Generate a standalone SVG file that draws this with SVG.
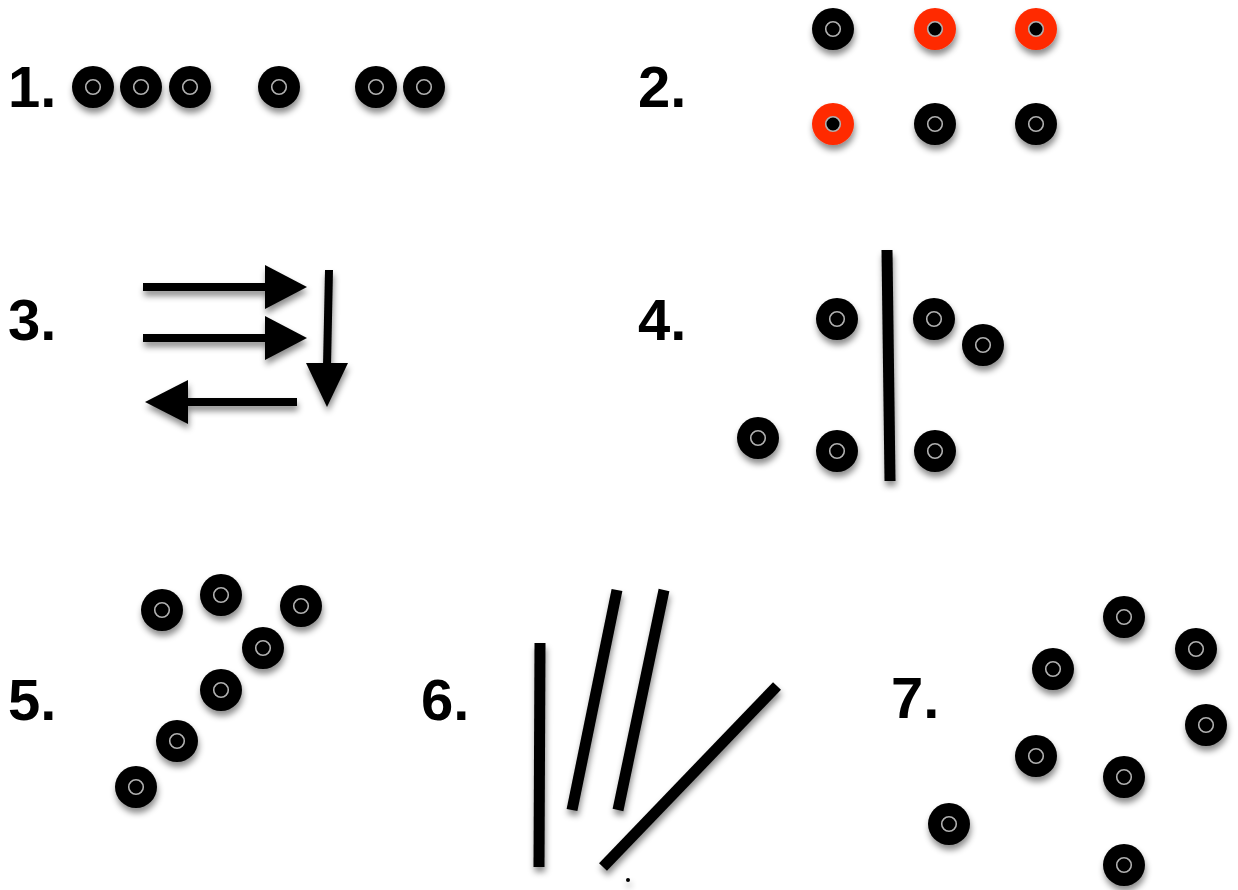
<svg xmlns="http://www.w3.org/2000/svg" xmlns:xlink="http://www.w3.org/1999/xlink" width="1238" height="890" viewBox="0 0 1238 890">
<style>
.lbl{font-family:"Liberation Sans",Arial,Helvetica,sans-serif;font-weight:bold;font-size:58px;fill:#000}
.bar{stroke:#000;stroke-width:11;stroke-linecap:butt;fill:none}
.shape{fill:#000}
</style>
<defs>
<filter id="sh" x="-50%" y="-50%" width="200%" height="200%">
<feDropShadow dx="1" dy="5" stdDeviation="3" flood-color="#000" flood-opacity="0.45"/>
</filter>
<g id="dot">
<circle r="21" fill="#000"/>
<circle r="7.3" fill="none" stroke="#b0b0b0" stroke-width="1.6"/>
</g>
<g id="rdot">
<circle r="21" fill="#ff2a00"/>
<circle r="7.3" fill="#000" stroke="#b0b0b0" stroke-width="1.6"/>
</g>
</defs>
<rect width="1238" height="890" fill="#fff"/>

<g id="labels">
<text class="lbl" x="8" y="107">1.</text>
<text class="lbl" x="638" y="107">2.</text>
<text class="lbl" x="8" y="340">3.</text>
<text class="lbl" x="638" y="340">4.</text>
<text class="lbl" x="8" y="720">5.</text>
<text class="lbl" x="421" y="720">6.</text>
<text class="lbl" x="891" y="718">7.</text>
</g>

<g id="panel1" filter="url(#sh)">
<use xlink:href="#dot" x="93" y="87"/>
<use xlink:href="#dot" x="141" y="87"/>
<use xlink:href="#dot" x="190" y="87"/>
<use xlink:href="#dot" x="279" y="87"/>
<use xlink:href="#dot" x="376" y="87"/>
<use xlink:href="#dot" x="424" y="87"/>
</g>

<g id="panel2" filter="url(#sh)">
<use xlink:href="#dot" x="833" y="29"/>
<use xlink:href="#rdot" x="935" y="29"/>
<use xlink:href="#rdot" x="1036" y="29"/>
<use xlink:href="#rdot" x="833" y="124"/>
<use xlink:href="#dot" x="935" y="124"/>
<use xlink:href="#dot" x="1036" y="124"/>
</g>

<g id="panel3" filter="url(#sh)">
<g id="arrow1" class="shape">
<rect x="143" y="283" width="125" height="8"/>
<polygon points="265,265 307,287 265,309"/>
</g>
<g id="arrow2" class="shape">
<rect x="143" y="334" width="125" height="8"/>
<polygon points="265,316 307,338 265,360"/>
</g>
<g id="arrow3" class="shape">
<polygon points="325,270 333,270 331,366 323,366"/>
<polygon points="306,363 348,363 327,407"/>
</g>
<g id="arrow4" class="shape">
<rect x="185" y="398" width="112" height="8"/>
<polygon points="188,380 145,402 188,424"/>
</g>
</g>

<g id="panel4" filter="url(#sh)">
<line class="bar" x1="887" y1="250" x2="890" y2="481"/>
<use xlink:href="#dot" x="837" y="319"/>
<use xlink:href="#dot" x="934" y="319"/>
<use xlink:href="#dot" x="983" y="345"/>
<use xlink:href="#dot" x="758" y="438"/>
<use xlink:href="#dot" x="837" y="451"/>
<use xlink:href="#dot" x="935" y="451"/>
</g>

<g id="panel5" filter="url(#sh)">
<use xlink:href="#dot" x="162" y="610"/>
<use xlink:href="#dot" x="221" y="595"/>
<use xlink:href="#dot" x="301" y="606"/>
<use xlink:href="#dot" x="263" y="648"/>
<use xlink:href="#dot" x="221" y="690"/>
<use xlink:href="#dot" x="177" y="741"/>
<use xlink:href="#dot" x="136" y="787"/>
</g>

<g id="panel6" filter="url(#sh)">
<line class="bar" x1="540" y1="643" x2="539" y2="867"/>
<line class="bar" x1="617" y1="590" x2="572" y2="810"/>
<line class="bar" x1="664" y1="590" x2="618" y2="810"/>
<line class="bar" x1="777" y1="686" x2="603" y2="867"/>
<circle cx="628" cy="880" r="2" fill="#000"/>
</g>

<g id="panel7" filter="url(#sh)">
<use xlink:href="#dot" x="1124" y="617"/>
<use xlink:href="#dot" x="1196" y="649"/>
<use xlink:href="#dot" x="1053" y="669"/>
<use xlink:href="#dot" x="1206" y="725"/>
<use xlink:href="#dot" x="1036" y="756"/>
<use xlink:href="#dot" x="1124" y="777"/>
<use xlink:href="#dot" x="949" y="824"/>
<use xlink:href="#dot" x="1124" y="865"/>
</g>
</svg>
